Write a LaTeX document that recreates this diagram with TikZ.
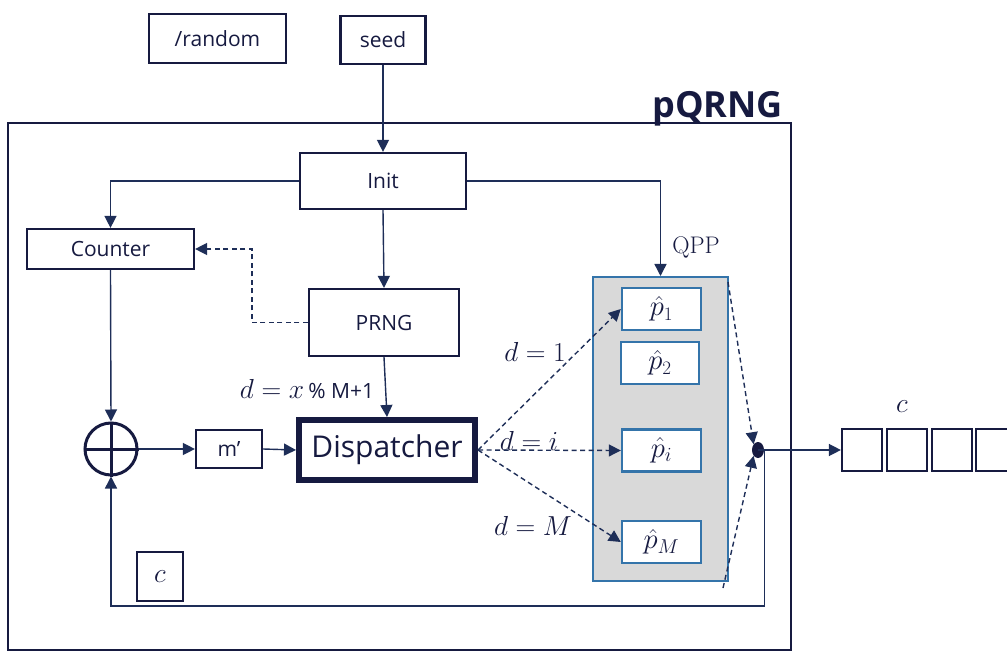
\documentclass[tikz,border=0pt]{standalone}
\usepackage{graphicx}
\usepackage{fontspec}
\setsansfont{Open Sans}
\usetikzlibrary{arrows.meta,shapes.geometric}
% let the math italic letters scale to any size
\DeclareFontShape{OML}{cmm}{m}{it}{<-6>cmmi5<6-7>cmmi6<7-8>cmmi7<8-9>cmmi8<9-10>cmmi9<10-12>cmmi10<12->cmmi12}{}

\definecolor{navy}{RGB}{22,26,64}
\definecolor{wire}{RGB}{30,46,88}
\definecolor{qblue}{RGB}{52,116,170}
\definecolor{qgray}{RGB}{217,217,217}

\newcommand{\mathlbl}[1]{\scalebox{1.1}{$#1$}}

\tikzset{
  sans/.style={font=\sffamily\fontsize{21}{25}\selectfont, text=navy},
  blk/.style={draw=navy, line width=2.2pt, fill=white, inner sep=0pt, sans},
  pbox/.style={draw=qblue, line width=2.4pt, fill=white, inner sep=0pt,
               minimum width=79pt, minimum height=42pt, text=navy,
               font=\fontsize{26}{30}\selectfont},
  qcell/.style={draw=navy, line width=2.2pt, fill=white,
                minimum width=40pt, minimum height=42pt, inner sep=0pt},
  mlabel/.style={text=navy, font=\fontsize{25}{29}\selectfont, inner sep=0pt},
  tip/.style={-{Triangle[length=12pt,width=12pt]}},
  wirel/.style={draw=wire, line width=1.4pt},
  conn/.style={wirel, tip},
  dconn/.style={wirel, dash pattern=on 5pt off 3.5pt, tip},
}

\begin{document}
\begin{tikzpicture}[x=1pt, y=-1pt]
  \useasboundingbox (0,0) rectangle (1007,652);

  % outer pQRNG frame and its title
  \draw[navy, line width=2.6pt] (8,123) rectangle (791,650);
  \node[anchor=base east, inner sep=0pt, text=navy,
        font=\sffamily\bfseries\fontsize{36}{40}\selectfont] (title) at (783,118) {pQRNG};

  % inputs above the frame
  \node[blk, minimum width=137pt, minimum height=49pt] (random) at (217.5,38.5) {/random};
  \node[blk, minimum width=85pt,  minimum height=48pt] (seed)   at (383,40)     {seed};

  % main blocks
  \node[blk, minimum width=166pt, minimum height=56pt] (init)    at (383,181)   {Init};
  \node[blk, minimum width=167pt, minimum height=40pt] (counter) at (110.5,249) {Counter};
  \node[blk, minimum width=150pt, minimum height=67pt] (prng)    at (384,322.5) {PRNG};
  \node[blk, minimum width=66pt,  minimum height=38pt] (mp)      at (229,449)   {m\char"2019};
  \node[blk, line width=6pt, minimum width=176pt, minimum height=60pt,
        font=\sffamily\fontsize{30}{34}\selectfont] (disp) at (387,450) {Dispatcher};
  \node[blk, minimum width=46pt, minimum height=49pt,
        font=\fontsize{25}{29}\selectfont] (cbox) at (160,576.5) {\mathlbl{c}};

  % XOR combiner
  \node[circle, draw=navy, line width=3pt, minimum size=52pt, inner sep=0pt] (xor) at (111,449) {};
  \draw[navy, line width=3pt] (xor.north) -- (xor.south) (xor.west) -- (xor.east);

  % QPP bank
  \node[draw=qblue, line width=2pt, fill=qgray, minimum width=135pt,
        minimum height=304pt, inner sep=0pt] (qpp) at (660.5,429) {};
  \node[mlabel, font=\fontsize{24}{28}\selectfont] (qpplabel) at (696,247) {QPP};
  \node[pbox] (p1) at (661.5,309)   {\mathlbl{\hat{p}_1}};
  \node[pbox, minimum width=78pt] (p2) at (660,363) {\mathlbl{\hat{p}_2}};
  \node[pbox] (pi) at (661.5,450.5) {\mathlbl{\hat{p}_i}};
  \node[pbox] (pM) at (661.5,542)   {\mathlbl{\hat{p}_M}};

  % junction and output queue
  \node[ellipse, fill=navy, minimum width=12pt, minimum height=16pt, inner sep=0pt] (dot) at (758,450) {};
  \node[mlabel] (clabel) at (902,407) {\mathlbl{c}};
  \node[qcell] (q1) at (862,450) {};
  \node[qcell] (q2) at (907,450) {};
  \node[qcell] (q3) at (952,450) {};
  \node[qcell] (q4) at (996,450) {};

  % labels on the dispatch paths
  \node[mlabel] (dlab) at (307,389) {\mathlbl{d = x}\,{\sffamily\fontsize{21}{25}\selectfont\% M+1}};
  \node[mlabel] (d1) at (535,352) {\mathlbl{d = 1}};
  \node[mlabel] (di) at (529,441) {\mathlbl{d = i}};
  \node[mlabel] (dM) at (533,526) {\mathlbl{d = M}};

  % solid connectors
  \draw[conn] (seed.south) -- (init.north);
  \draw[conn] (init.west) -| (counter.north);
  \draw[conn] (init.east) -| (qpp.north);
  \draw[conn] (init.south) -- (prng.north);
  \draw[conn] (prng.south) -- (disp.north);
  \draw[conn] (counter.south) -- (xor.north);
  \draw[conn] (xor.east) -- (mp.west);
  \draw[conn] (mp.east) -- (disp.west);
  \draw[conn] (dot.center) -- (q1.west);
  \draw[conn] (dot.east) -- ++(0,156) -| (xor.south);

  % dashed connectors
  \draw[dconn] (prng.west) -- ++(-56,0) |- (counter.east);
  \draw[dconn] (disp.east) -- (p1.west);
  \draw[dconn] (disp.east) -- (pi.west);
  \draw[dconn] (disp.east) -- (pM.west);
  \coordinate (qtop) at (728,282);
  \coordinate (qbot) at (723,588);
  \draw[dconn] (qtop) -- (dot.north west);
  \draw[dconn] (qbot) -- (dot.south west);
\end{tikzpicture}
\end{document}
